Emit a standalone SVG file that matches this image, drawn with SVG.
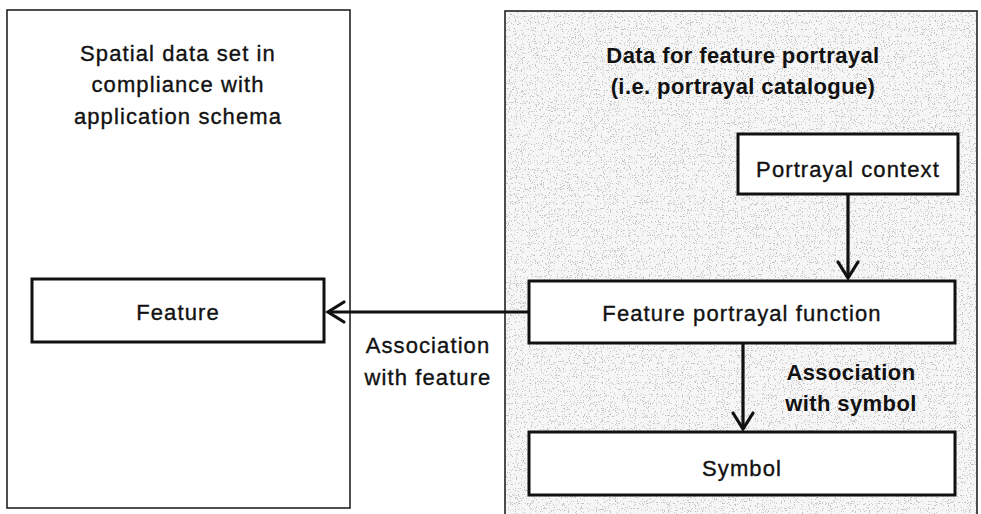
<svg xmlns="http://www.w3.org/2000/svg" width="981" height="514" viewBox="0 0 981 514">
  <style>
    .frame { fill: #ffffff; stroke: #222; stroke-width: 1.6; }
    .box { fill: #ffffff; stroke: #111; stroke-width: 3; }
    .lbl { font-family: "Liberation Sans", Arial, sans-serif; font-size: 22px; fill: #111; stroke: #111; stroke-width: 0.35; text-anchor: middle; letter-spacing: 1.1px; }
    .bold { font-weight: bold; stroke-width: 0; letter-spacing: 0.4px; }
    .conn { stroke: #111; stroke-width: 3.2; fill: none; }
    .head { stroke: #111; stroke-width: 3.2; fill: none; stroke-linecap: round; stroke-linejoin: miter; }
  </style>
  <defs>
    <!-- sparse grey speckle texture for the portrayal catalogue panel -->
    <filter id="speckle" x="0" y="0" width="100%" height="100%">
      <feTurbulence type="fractalNoise" baseFrequency="0.85" numOctaves="2" seed="7" result="n"/>
      <feColorMatrix in="n" type="matrix" values="0 0 0 0 0.55  0 0 0 0 0.55  0 0 0 0 0.55  0 0 0 -22 8.2" result="dots"/>
      <feFlood flood-color="#f6f6f6" result="bg"/>
      <feComposite in="dots" in2="bg" operator="over" result="tex"/>
      <feComposite in="tex" in2="SourceGraphic" operator="in"/>
    </filter>
  </defs>

  <rect width="981" height="514" fill="#ffffff"/>

  <!-- left panel: spatial data set -->
  <g id="dataset">
    <rect class="frame" x="7" y="10" width="343" height="498"/>
    <text class="lbl" x="178" y="61">Spatial data set in</text>
    <text class="lbl" x="178" y="92">compliance with</text>
    <text class="lbl" x="178" y="124">application schema</text>
  </g>

  <!-- right panel: portrayal catalogue -->
  <g id="catalogue">
    <rect x="505" y="11" width="472" height="510" fill="#000" filter="url(#speckle)"/>
    <rect x="505" y="11" width="472" height="510" fill="none" stroke="#222" stroke-width="1.6"/>
    <text class="lbl bold" x="743" y="63">Data for feature portrayal</text>
    <text class="lbl bold" x="743" y="94">(i.e. portrayal catalogue)</text>
  </g>

  <g id="feature">
    <rect class="box" x="32" y="279" width="292" height="63"/>
    <text class="lbl" x="178" y="320">Feature</text>
  </g>

  <g id="portrayal-context">
    <rect class="box" x="738" y="134" width="220" height="60"/>
    <text class="lbl" x="848" y="177">Portrayal context</text>
  </g>

  <g id="portrayal-function">
    <rect class="box" x="529" y="281" width="426" height="62"/>
    <text class="lbl" x="742" y="321">Feature portrayal function</text>
  </g>

  <g id="symbol">
    <rect class="box" x="529" y="432" width="426" height="63"/>
    <text class="lbl" x="742" y="476">Symbol</text>
  </g>

  <!-- connectors -->
  <g id="connectors">
    <line class="conn" x1="848" y1="194" x2="848" y2="278"/>
    <polyline class="head" points="838,262 848,278 858,262"/>

    <line class="conn" x1="529" y1="312" x2="328" y2="312"/>
    <polyline class="head" points="344,302 328,312 344,322"/>

    <line class="conn" x1="743" y1="343" x2="743" y2="429"/>
    <polyline class="head" points="733,413 743,429 753,413"/>

    <text class="lbl" x="428" y="353">Association</text>
    <text class="lbl" x="428" y="385">with feature</text>
    <text class="lbl bold" x="851" y="380">Association</text>
    <text class="lbl bold" x="851" y="411">with symbol</text>
  </g>
</svg>
